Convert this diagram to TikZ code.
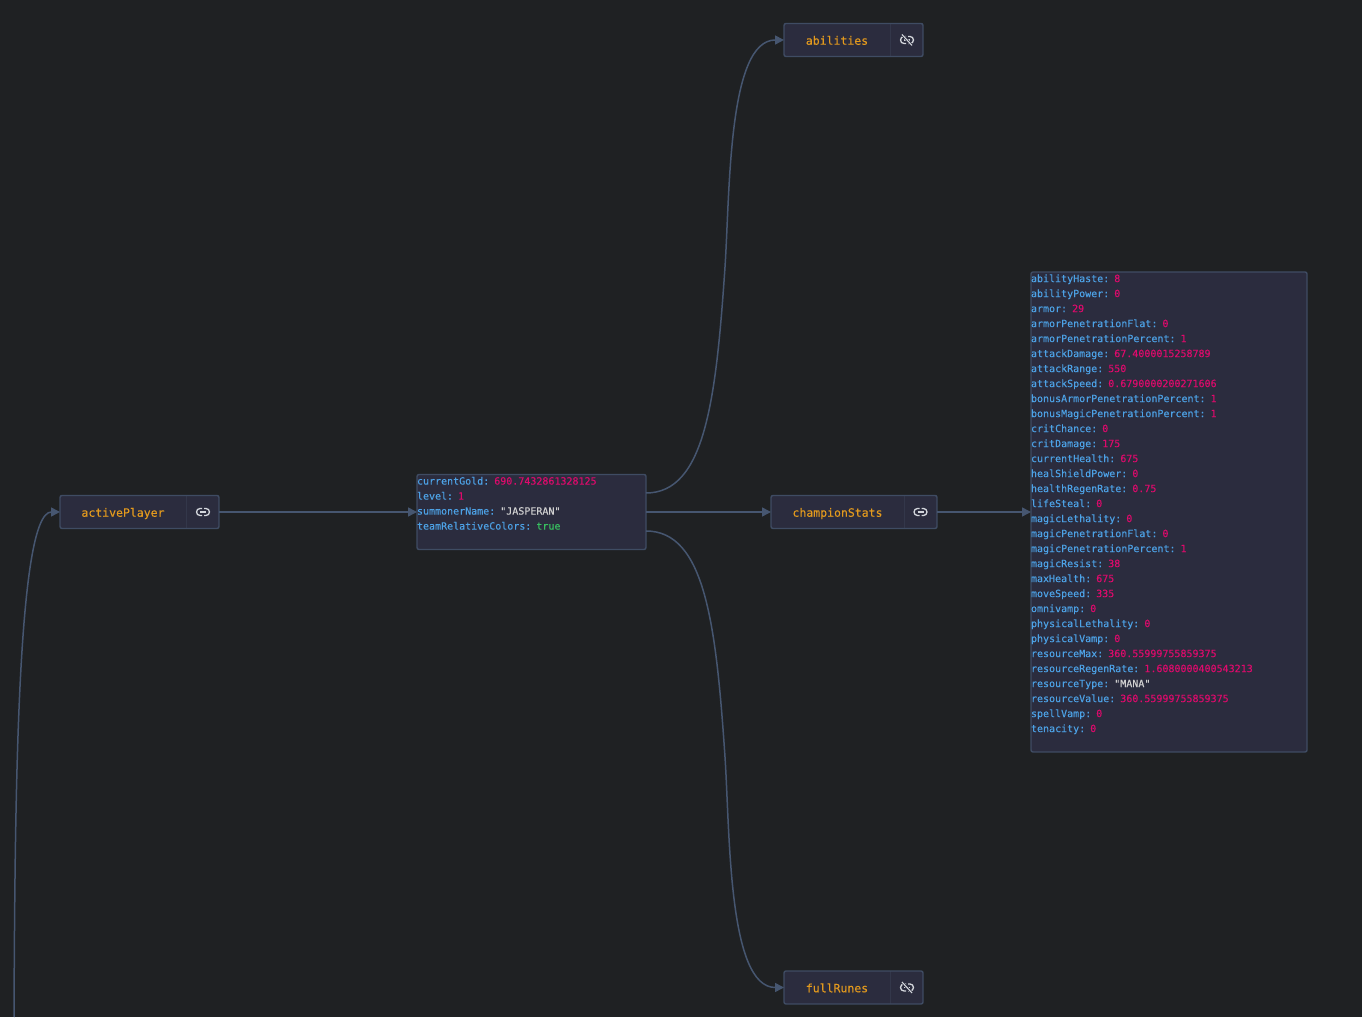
\documentclass[tikz,border=0pt]{standalone}
\usepackage{fontspec}
\usepackage{xcolor}
\usetikzlibrary{arrows.meta,positioning}
\setmonofont[FakeBold=0.15]{DejaVu Sans Mono}
\definecolor{canvasbg}{HTML}{1F2123}
\definecolor{panelbg}{HTML}{2B2C3E}
\definecolor{panelline}{HTML}{3F4C63}
\definecolor{seamline}{HTML}{33374A}
\definecolor{edgeline}{HTML}{465670}
\definecolor{keyblue}{HTML}{4DA2E6}
\definecolor{numpink}{HTML}{DE0A6C}
\definecolor{strgrey}{HTML}{D0D0D0}
\definecolor{boolgreen}{HTML}{38C060}
\definecolor{labelorange}{HTML}{E39A1E}
\definecolor{glyphgrey}{HTML}{D3D6DC}
\newcommand{\rowstrut}{\rule[-4.9pt]{0pt}{15pt}}
\newcommand{\fld}[2]{\rowstrut\textcolor{keyblue}{#1:} #2}
\newcommand{\numv}[1]{\textcolor{numpink}{#1}}
\newcommand{\strv}[1]{\textcolor{strgrey}{#1}}
\newcommand{\boolv}[1]{\textcolor{boolgreen}{#1}}
\begin{document}
\begin{tikzpicture}[x=1pt,y=1pt,>={Triangle[length=9pt,width=9pt]},node distance=0pt,
panel/.style={draw=panelline,fill=panelbg,line width=1.4pt,rounded corners=2pt,outer sep=0pt},
namebox/.style={fill=panelbg,outer sep=0pt,minimum height=33pt,text height=9.5pt,text depth=0pt,text=labelorange,font=\ttfamily\fontsize{11.5}{14}\selectfont},
linkbox/.style={fill=panelbg,outer sep=0pt,minimum height=33pt,minimum width=33pt},
databox/.style={panel,inner sep=0pt,align=left,font=\ttfamily\fontsize{10}{15}\selectfont},
seam/.style={draw=seamline,line width=1pt},
edge/.style={draw=edgeline,line width=1.5pt,->},
linkglyph/.pic={
\draw[glyphgrey,line width=1.3pt] (-1,3.5)--(-3,3.5) arc[start angle=90,end angle=270,radius=3.5]--(-1,-3.5);
\draw[glyphgrey,line width=1.3pt] (1,3.5)--(3,3.5) arc[start angle=90,end angle=-90,radius=3.5]--(1,-3.5);
\draw[glyphgrey,line width=1.3pt] (-3,0)--(3,0);},
unlinkglyph/.pic={
\draw[glyphgrey,line width=1.3pt] (-1,3.5)--(-3,3.5) arc[start angle=90,end angle=270,radius=3.5]--(-1,-3.5);
\draw[glyphgrey,line width=1.3pt] (1,3.5)--(3,3.5) arc[start angle=90,end angle=-90,radius=3.5]--(1,-3.5);
\draw[glyphgrey,line width=1.3pt] (-3,0)--(3,0);
\draw[panelbg,line width=2.6pt] (-5,5.5)--(5,-5.5);
\draw[glyphgrey,line width=1.1pt] (-5,5.5)--(5,-5.5);}]
\useasboundingbox[fill=canvasbg] (0,0) rectangle (1362,1017);
% nodes, left to right
\node[namebox,minimum width=126pt,anchor=west] (player) at (60,505) {activePlayer};
\node[linkbox,right=of player] (playerlink) {};
\node[databox,right=198pt of playerlink,text width=229pt] (core) {%
\fld{currentGold}{\numv{690.7432861328125}}\\
\fld{level}{\numv{1}}\\
\fld{summonerName}{\strv{"JASPERAN"}}\\
\fld{teamRelativeColors}{\boolv{true}}\\
\rowstrut};
\node[namebox,minimum width=106pt,right=138pt of core,yshift=472pt] (abilities) {abilities};
\node[linkbox,right=of abilities] (abilitieslink) {};
\node[namebox,minimum width=133pt,right=125pt of core] (stats) {championStats};
\node[linkbox,right=of stats] (statslink) {};
\node[namebox,minimum width=106pt,right=138pt of core,yshift=-475.5pt] (runes) {fullRunes};
\node[linkbox,right=of runes] (runeslink) {};
\node[databox,right=94pt of statslink,text width=276pt] (statsdata) {%
\fld{abilityHaste}{\numv{8}}\\
\fld{abilityPower}{\numv{0}}\\
\fld{armor}{\numv{29}}\\
\fld{armorPenetrationFlat}{\numv{0}}\\
\fld{armorPenetrationPercent}{\numv{1}}\\
\fld{attackDamage}{\numv{67.4000015258789}}\\
\fld{attackRange}{\numv{550}}\\
\fld{attackSpeed}{\numv{0.6790000200271606}}\\
\fld{bonusArmorPenetrationPercent}{\numv{1}}\\
\fld{bonusMagicPenetrationPercent}{\numv{1}}\\
\fld{critChance}{\numv{0}}\\
\fld{critDamage}{\numv{175}}\\
\fld{currentHealth}{\numv{675}}\\
\fld{healShieldPower}{\numv{0}}\\
\fld{healthRegenRate}{\numv{0.75}}\\
\fld{lifeSteal}{\numv{0}}\\
\fld{magicLethality}{\numv{0}}\\
\fld{magicPenetrationFlat}{\numv{0}}\\
\fld{magicPenetrationPercent}{\numv{1}}\\
\fld{magicResist}{\numv{38}}\\
\fld{maxHealth}{\numv{675}}\\
\fld{moveSpeed}{\numv{335}}\\
\fld{omnivamp}{\numv{0}}\\
\fld{physicalLethality}{\numv{0}}\\
\fld{physicalVamp}{\numv{0}}\\
\fld{resourceMax}{\numv{360.55999755859375}}\\
\fld{resourceRegenRate}{\numv{1.6080000400543213}}\\
\fld{resourceType}{\strv{"MANA"}}\\
\fld{resourceValue}{\numv{360.55999755859375}}\\
\fld{spellVamp}{\numv{0}}\\
\fld{tenacity}{\numv{0}}\\
\rowstrut};
% seams, outlines and link glyphs
\foreach \nm in {player,abilities,stats,runes}{
  \draw[seam] (\nm.north east)--(\nm.south east);
  \draw[panel,fill=none] (\nm.north west) rectangle (\nm link.south east);
}
\pic at ([xshift=.5pt]playerlink) {linkglyph};
\pic at (statslink) {linkglyph};
\pic at ([xshift=.5pt]abilitieslink) {unlinkglyph};
\pic at ([xshift=.5pt]runeslink) {unlinkglyph};
% connectors
\coordinate (offcanvas) at (14,0);
\draw[edge] (offcanvas) .. controls +(1,217) and +(-43,0) .. (player.west);
\draw[edge] (playerlink.east)--(core.west);
\draw[edge] ([yshift=19pt]core.east) .. controls +(59,0) and +(-9,-133) .. ++(79,226)
  .. controls +(5,77) and +(-56,0) .. (abilities.west);
\draw[edge] (core.east)--(stats.west);
\draw[edge] ([yshift=-19pt]core.east) .. controls +(59,0) and +(-9,133) .. ++(79,-226)
  .. controls +(5,-77) and +(-56,0) .. (runes.west);
\draw[edge] (statslink.east)--(statsdata.west);
\end{tikzpicture}
\end{document}
